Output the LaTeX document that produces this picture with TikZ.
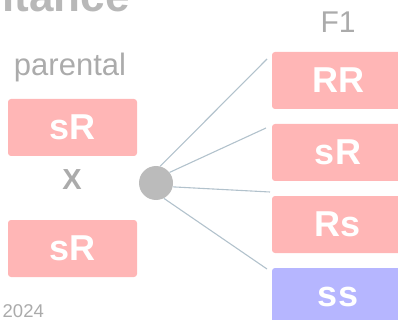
\documentclass[tikz,border=0pt]{standalone}
\usepackage{fontspec}
\setmainfont{Liberation Sans}
\definecolor{boxpink}{HTML}{FFB6B6}
\definecolor{boxblue}{HTML}{B6B6FF}
\definecolor{labelgray}{HTML}{ABABAB}
\definecolor{dotgray}{HTML}{BBBBBB}
\definecolor{linkgray}{HTML}{B2C2CC}
\begin{document}
\begin{tikzpicture}[x=1pt,y=-1pt,
  allele/.style={rounded corners=3pt, inner sep=0pt, text=white,
    minimum height=57pt, font=\fontsize{36}{36}\selectfont\bfseries},
  parentbox/.style={allele, fill=boxpink, minimum width=129pt},
  childbox/.style={allele, fill=boxpink, minimum width=132pt},
  recessive/.style={childbox, fill=boxblue},
  caption/.style={text=labelgray, inner sep=0pt},
  link/.style={draw=linkgray, line width=1.1pt}]
\useasboundingbox (0,0) rectangle (398,320);
\clip (0,0) rectangle (398,320);

% heading, running off the top edge
\node[caption, anchor=base east, text=labelgray!85,
  font=\fontsize{44}{44}\selectfont\bfseries] (title) at (130,12) {Inheritance};

% column headings and year
\node[caption, anchor=base, font=\fontsize{31}{31}\selectfont] (parental) at (70,76) {parental};
\node[caption, anchor=base, font=\fontsize{30}{30}\selectfont] (gen) at (338,33) {F1};
\node[caption, anchor=base west, font=\fontsize{18.5}{18.5}\selectfont] (year) at (2.5,317) {2024};

% parents
\node[parentbox] (p1) at (72.5,127.5) {sR};
\node[caption, font=\fontsize{29}{29}\selectfont\bfseries] (cross) at (72,180) {X};
\node[parentbox] (p2) at (72.5,248.5) {sR};

% offspring
\node[childbox]  (f1) at (338,80.5)  {RR};
\node[childbox]  (f2) at (338,152.5) {sR};
\node[childbox]  (f3) at (338,224.5) {Rs};
\node[recessive] (f4) at (338,296.5) {ss};

% junction dot and its branches
\node[circle, fill=dotgray, minimum size=34pt, inner sep=0pt] (dot) at (156,183) {};
\coordinate (e1) at (267,59);
\coordinate (e2) at (266,128);
\coordinate (e3) at (270,192);
\coordinate (e4) at (267,269);
\draw[link] (dot.76) -- (e1);
\draw[link] (dot.38) -- (e2);
\draw[link] (dot.-13) -- (e3);
\draw[link] (dot.-63) -- (e4);
\end{tikzpicture}
\end{document}
